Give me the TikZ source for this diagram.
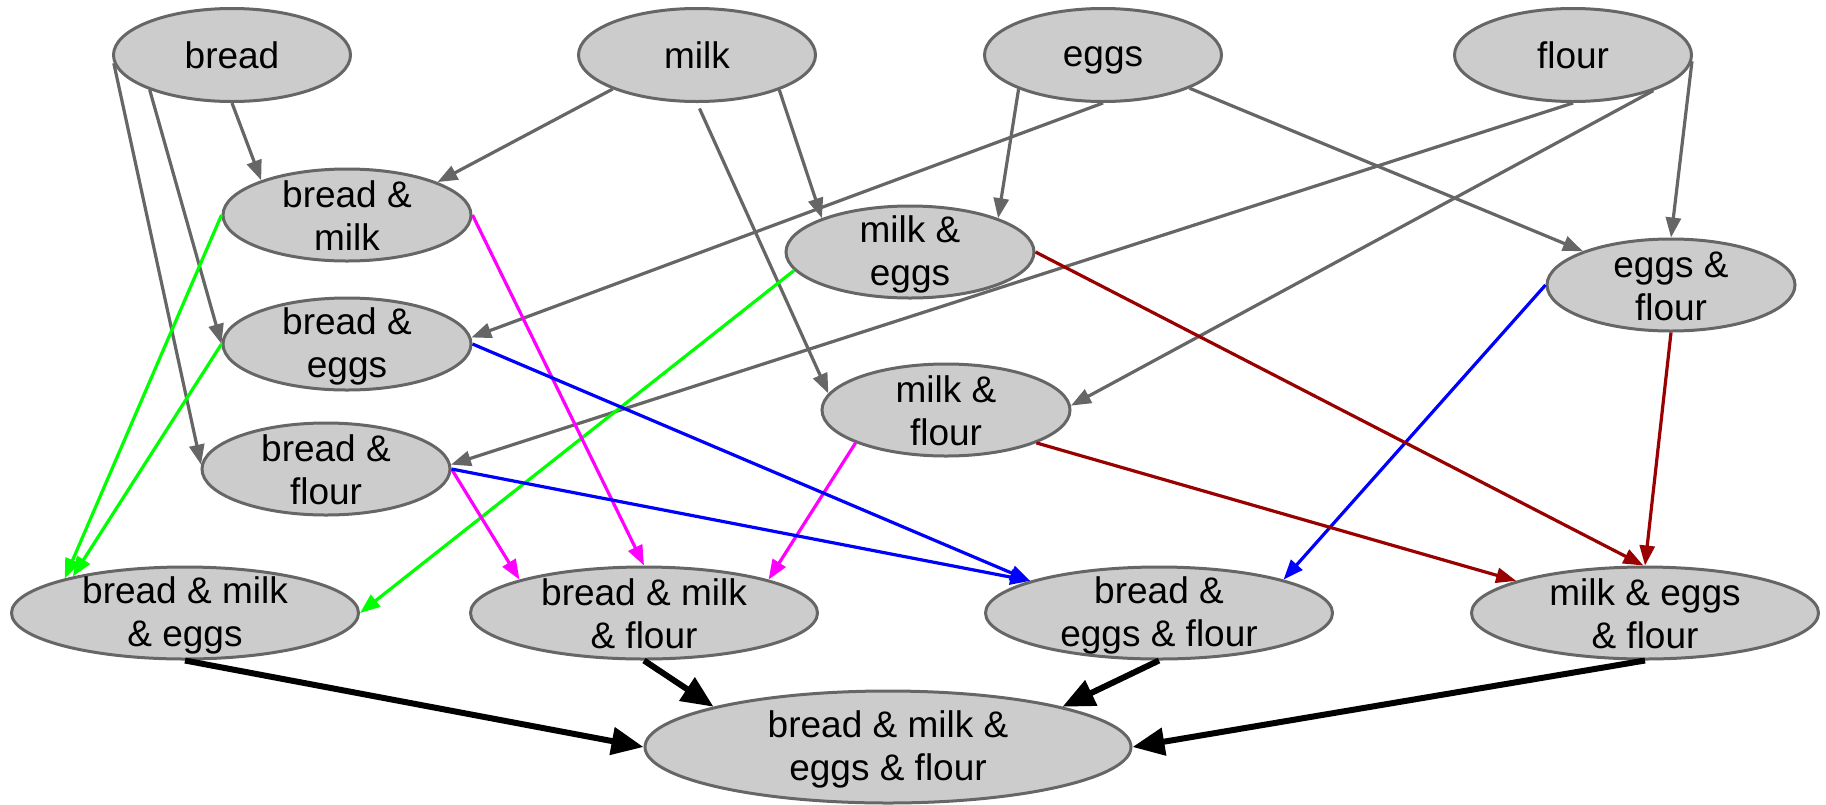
\documentclass[tikz,border=0pt]{standalone}
\usepackage{fontspec}
\setmainfont{Liberation Sans}
\usetikzlibrary{arrows.meta,shapes.geometric}
\definecolor{nodefill}{HTML}{CCCCCC}
\definecolor{nodeline}{HTML}{666666}
\definecolor{edgegray}{HTML}{666666}
\definecolor{edgegreen}{HTML}{00FF00}
\definecolor{edgemagenta}{HTML}{FF00FF}
\definecolor{edgeblue}{HTML}{0000FF}
\definecolor{edgered}{HTML}{990000}
% fixed line strut so every label sits at the same height in its ellipse
\newcommand\ls{\rule[-4pt]{0pt}{35pt}}

\begin{document}
\begin{tikzpicture}[x=1pt,y=-1pt,
  item/.style={ellipse, draw=nodeline, fill=nodefill, line width=3pt,
    inner xsep=0pt, inner ysep=-30pt, align=center,
    font=\fontsize{37}{43}\selectfont},
  single/.style={item, minimum width=237pt, minimum height=93pt},
  pair/.style={item, minimum width=248pt, minimum height=92pt},
  triple/.style={item, minimum width=347pt, minimum height=92pt},
  whole/.style={item, minimum width=486pt, minimum height=112pt},
  link/.style={line width=3.2pt, -{Triangle[length=20pt,width=15pt]}},
  graylink/.style={link, draw=edgegray},
  greenlink/.style={link, draw=edgegreen},
  magentalink/.style={link, draw=edgemagenta},
  bluelink/.style={link, draw=edgeblue},
  redlink/.style={link, draw=edgered},
  finallink/.style={line width=6pt, draw=black, -{Triangle[length=32pt,width=27pt]}}
]
\useasboundingbox (0,0) rectangle (1826,804);

% ingredients
\node[single] (bread) at (232,55) {\ls bread};
\node[single] (milk)  at (697,55) {\ls milk};
\node[single] (eggs)  at (1103,55) {\ls eggs};
\node[single] (flour) at (1573,55) {\ls flour};

% pairs
\node[pair] (bm) at (347,215) {\ls bread \&\\\ls milk};
\node[pair] (me) at (910,252) {\ls milk \&\\\ls eggs};
\node[pair] (ef) at (1671,285) {\ls eggs \&\\\ls flour};
\node[pair] (be) at (347,344) {\ls bread \&\\\ls eggs};
\node[pair] (mf) at (946,410) {\ls milk \&\\\ls flour};
\node[pair] (bf) at (326,469) {\ls bread \&\\\ls flour};

% triples
\node[triple] (bme) at (185,613) {\ls bread \& milk\\\ls \& eggs};
\node[triple] (bmf) at (644,613) {\ls bread \& milk\\\ls \& flour};
\node[triple] (bef) at (1159,613) {\ls bread \&\\\ls eggs \& flour};
\node[triple] (mef) at (1645,613) {\ls milk \& eggs\\\ls \& flour};

% everything
\node[whole] (all) at (888,747) {\ls bread \& milk \&\\\ls eggs \& flour};

% ingredients to pairs
\draw[graylink] (bread.south) -- (bm.158);
\draw[graylink] (bread.203) -- (be.west);
\draw[graylink] (bread.184) -- (bf.178);
\draw[graylink] (milk.202) -- (bm.20);
\draw[graylink] (milk.-23) -- (me.159);
\draw[graylink, shorten <=6pt] (milk.south) -- (mf.172);
\draw[graylink] (eggs.202) -- (me.21);
\draw[graylink] (eggs.south) -- (be.3);
\draw[graylink] (eggs.-21) -- (ef.159);
\draw[graylink] (flour.south) -- (bf.2);
\draw[graylink] (flour.-24) -- (mf.2);
\draw[graylink] (flour.-3) -- (ef.north);

% pairs to triples
\draw[greenlink] (bm.west) -- (bme.164);
\draw[greenlink] (be.west) -- (bme.162);
\draw[greenlink] (me.189) -- (bme.east);
\draw[magentalink] (bm.east) -- (bmf.north);
\draw[magentalink] (bf.east) -- (bmf.165);
\draw[magentalink] (mf.200) -- (bmf.15);
\draw[bluelink] (be.east) -- (bef.166);
\draw[bluelink] (bf.east) -- (bef.166);
\draw[bluelink] (ef.west) -- (bef.15);
\draw[redlink] (me.east) -- (mef.92);
\draw[redlink] (mf.-20) -- (mef.166);
\draw[redlink] (ef.south) -- (mef.north);

% triples to everything
\draw[finallink] (bme.south) -- (all.west);
\draw[finallink] (bmf.south) -- (all.167);
\draw[finallink] (bef.south) -- (all.13);
\draw[finallink] (mef.south) -- (all.east);
\end{tikzpicture}
\end{document}
